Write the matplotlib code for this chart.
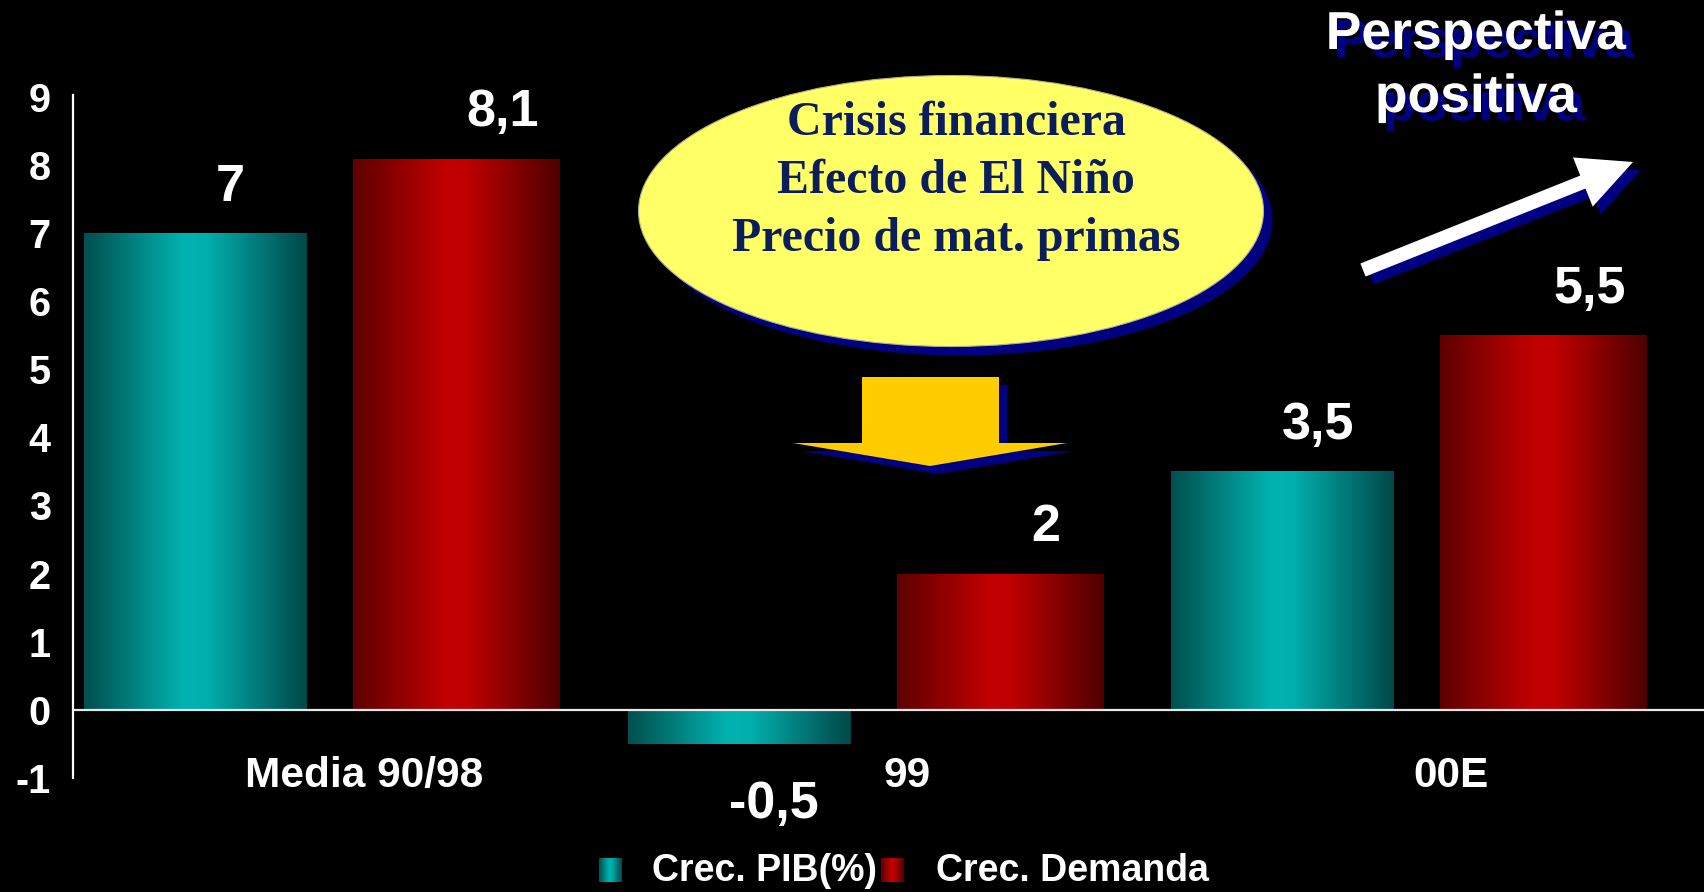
import numpy as np
import matplotlib
matplotlib.use('Agg')
import matplotlib.pyplot as plt
from matplotlib.colors import LinearSegmentedColormap
from matplotlib.patches import Ellipse, Polygon, FancyArrow
import matplotlib.patheffects as pe

# ---------------- data ----------------
categories = ['Media 90/98', '99', '00E']
pib = [7, -0.5, 3.5]
demanda = [8.1, 2, 5.5]
pib_labels = ['7', '-0,5', '3,5']
dem_labels = ['8,1', '2', '5,5']
yticks = list(range(-1, 10))
series_names = ['Crec. PIB(%)', 'Crec. Demanda']
callout_lines = ['Crisis financiera', 'Efecto de El Niño', 'Precio de mat. primas']
outlook_lines = ['Perspectiva', 'positiva']

# ---------------- styling ----------------
W, H = 1704, 892
SANS = ['Liberation Sans', 'DejaVu Sans']
SERIF = ['Liberation Serif', 'DejaVu Serif']
NAVY = '#000080'

cyan_cmap = LinearSegmentedColormap.from_list(
    'cy', [(0, '#004f4f'), (0.45, '#00b3b0'), (0.55, '#00afad'), (1, '#004848')])
red_cmap = LinearSegmentedColormap.from_list(
    'rd', [(0, '#5e0000'), (0.45, '#c20000'), (0.55, '#c00000'), (1, '#4e0000')])
grad = np.linspace(0, 1, 256).reshape(1, -1)

fig = plt.figure(figsize=(W / 100, H / 100), dpi=100, facecolor='black')
y0_px, y1_px = 892 - 777.6, 892 - 95.3
ax = fig.add_axes([73 / W, y0_px / H, 1 - 73 / W, (y1_px - y0_px) / H])
ax.set_facecolor('black')

x = np.arange(len(categories))
b1 = ax.bar(x + 0.02, pib, 0.41, align='edge', color='none', linewidth=0, zorder=2)
b2 = ax.bar(x + 0.515, demanda, 0.38, align='edge', color='none', linewidth=0, zorder=2)


def paint(bars, cmap):
    for b in bars:
        bx, by = b.get_x(), b.get_y()
        bw, bh = b.get_width(), b.get_height()
        im = ax.imshow(grad, cmap=cmap, aspect='auto', interpolation='bilinear',
                       extent=(bx, bx + bw, min(by, by + bh), max(by, by + bh)), zorder=2)
        im.set_clip_path(b)


paint(b1, cyan_cmap)
paint(b2, red_cmap)

ax.set_xlim(0, 3)
ax.set_ylim(-1, 9.03)

# axes styling
for s in ['top', 'right', 'bottom']:
    ax.spines[s].set_visible(False)
ax.spines['left'].set_color('white')
ax.spines['left'].set_linewidth(1.6)
ax.axhline(0, color='#e8e8e8', lw=1.6, zorder=3)
ax.set_xticks([])
ax.set_yticks(yticks)
ax.set_yticklabels([str(t) for t in yticks], fontsize=28.5, fontweight='bold',
                   color='white', family=SANS)
ax.tick_params(axis='y', length=0, pad=16)

# category labels
for i, c in enumerate(categories):
    ax.text(i + 0.535, -0.97, c, ha='center', va='center', fontsize=30.5,
            fontweight='bold', color='white', family=SANS)

# value labels
for i, (v, lab) in enumerate(zip(pib, pib_labels)):
    off = 33 if v >= 0 else -44
    ax.annotate(lab, (i + 0.29, v), xytext=(0, off), textcoords='offset points',
                ha='center', va='center', fontsize=37.5, fontweight='bold',
                color='white', family=SANS)
for i, (v, lab) in enumerate(zip(demanda, dem_labels)):
    off = 33 if v >= 0 else -44
    ax.annotate(lab, (i + 0.79, v), xytext=(0, off), textcoords='offset points',
                ha='center', va='center', fontsize=37.5, fontweight='bold',
                color='white', family=SANS)

# ---------------- overlay (pixel coords, y down) ----------------
ov = fig.add_axes([0, 0, 1, 1], zorder=5)
ov.patch.set_visible(False)
ov.axis('off')

# legend
ov.imshow(grad, cmap=cyan_cmap, aspect='auto', extent=(599, 622, 882, 858))
ov.imshow(grad, cmap=red_cmap, aspect='auto', extent=(881, 904, 882, 858))
ov.text(652, 871, series_names[0], ha='left', va='center', fontsize=27,
        fontweight='bold', color='white', family=SANS)
ov.text(936, 871, series_names[1], ha='left', va='center', fontsize=27,
        fontweight='bold', color='white', family=SANS)

# callout ellipse
ecx, ecy, ew, eh = 951, 211, 625, 271
ov.add_patch(Ellipse((ecx + 9, ecy + 9), ew, eh, facecolor=NAVY, edgecolor='none'))
ov.add_patch(Ellipse((ecx, ecy), ew, eh, facecolor='#ffff66', edgecolor='#b0b090', lw=0.8))
for k, line in enumerate(callout_lines):
    ov.text(956, 123 + 58 * k, line, ha='center', va='center', fontsize=34.5,
            fontweight='bold', color='#0b1d5a', family=SERIF)

# down arrow
down = [(862, 377), (999, 377), (999, 443), (1067, 443), (930, 466), (793, 443), (862, 443)]
ov.add_patch(Polygon([(px + 8, py + 8) for px, py in down], closed=True,
                     facecolor=NAVY, edgecolor='none'))
ov.add_patch(Polygon(down, closed=True, facecolor='#ffcc00', edgecolor='none'))

# white up arrow
ax0, ay0, ax1, ay1 = 1363, 270, 1633, 162
for dx_, dy_, col in [(8, 8, NAVY), (0, 0, 'white')]:
    ov.add_patch(FancyArrow(ax0 + dx_, ay0 + dy_, ax1 - ax0, ay1 - ay0, width=14,
                            head_width=53, head_length=54, length_includes_head=True,
                            facecolor=col, edgecolor='none'))

# outlook text with shadow (path effect)
shadow = [pe.SimplePatchShadow(offset=(6, -6), shadow_rgbFace=NAVY, alpha=1.0), pe.Normal()]
ov.text(1476, 35, outlook_lines[0], ha='center', va='center', fontsize=38.5,
        fontweight='bold', color='white', family=SANS, path_effects=shadow)
ov.text(1476, 98, outlook_lines[1], ha='center', va='center', fontsize=38.5,
        fontweight='bold', color='white', family=SANS, path_effects=shadow)

ov.set_xlim(0, W)
ov.set_ylim(H, 0)

fig.savefig('out.png', dpi=100, facecolor='black')
